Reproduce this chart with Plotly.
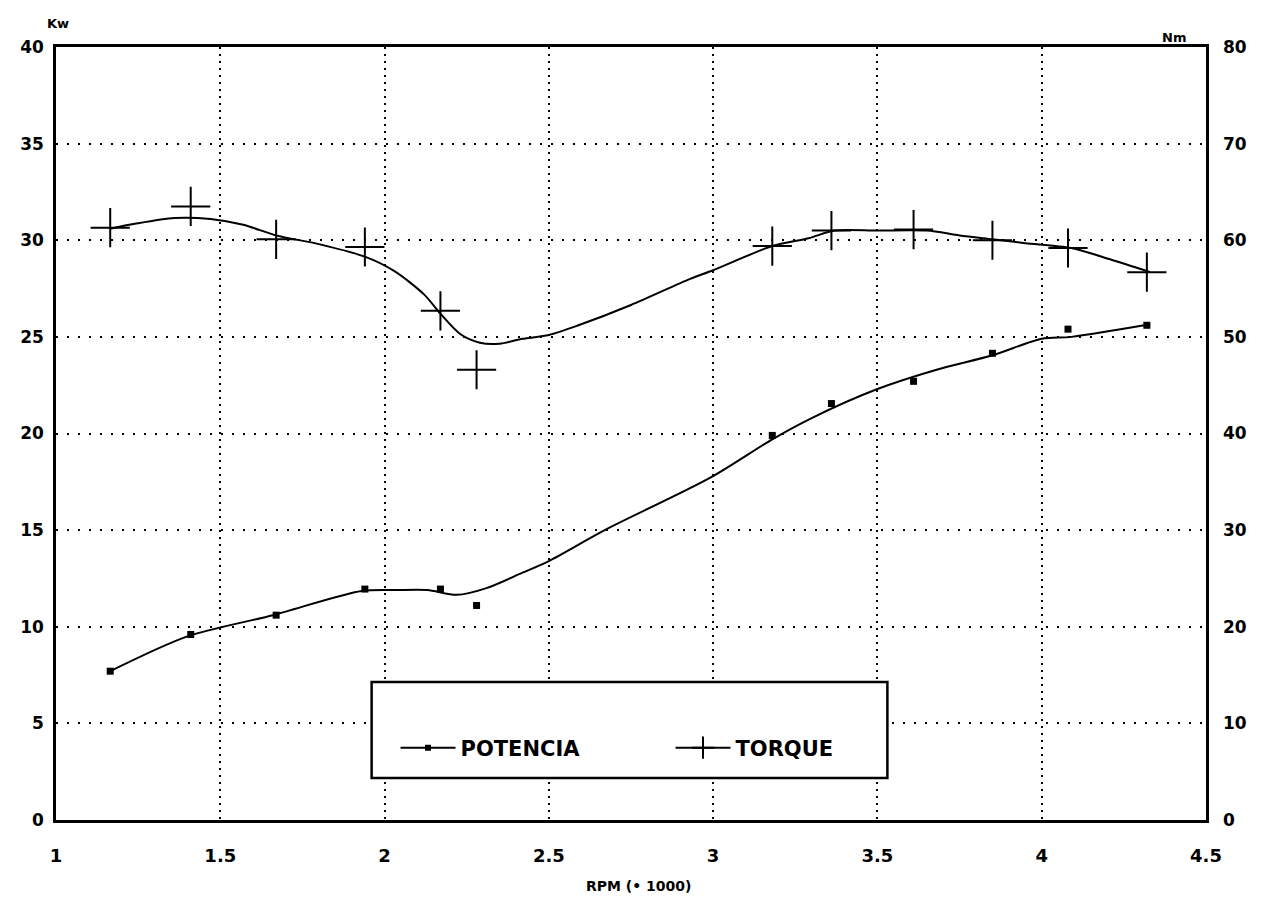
import plotly.graph_objects as go

# ---- data ----
rpm_points = [1.165, 1.41, 1.67, 1.94, 2.17, 2.28, 3.18, 3.36, 3.61, 3.85, 4.08, 4.32]
potencia_points = [7.7, 9.6, 10.6, 11.95, 11.95, 11.1, 19.9, 21.55, 22.7, 24.15, 25.4, 25.6]
torque_points = [61.3, 63.5, 60.1, 59.3, 52.7, 46.6, 59.4, 61.0, 61.1, 60.0, 59.2, 56.7]

# fitted (smoothed) curves as drawn in the picture
potencia_curve_rpm = [1.165, 1.40, 1.66, 1.93, 2.04, 2.13, 2.22, 2.31, 2.42, 2.50, 2.67,
                      2.99, 3.18, 3.30, 3.50, 3.68, 3.85, 4.00, 4.09, 4.33]
potencia_curve = [7.7, 9.5, 10.6, 11.85, 11.9, 11.9, 11.65, 12.0, 12.8, 13.4, 15.0,
                  17.7, 19.7, 20.8, 22.3, 23.3, 24.05, 24.9, 25.0, 25.65]
torque_curve_rpm = [1.165, 1.24, 1.36, 1.47, 1.57, 1.67, 1.80, 1.94, 2.03, 2.12, 2.17,
                    2.23, 2.29, 2.35, 2.42, 2.50, 2.59, 2.75, 2.93, 3.00, 3.18, 3.29,
                    3.37, 3.50, 3.65, 3.75, 3.85, 3.95, 4.09, 4.21, 4.33]
torque_curve = [61.2, 61.7, 62.3, 62.2, 61.6, 60.5, 59.6, 58.3, 56.8, 54.4, 52.4,
                50.3, 49.4, 49.3, 49.8, 50.2, 51.2, 53.3, 56.0, 56.9, 59.4, 60.2,
                61.0, 61.0, 61.0, 60.5, 60.1, 59.7, 59.2, 58.0, 56.7]

x_ticks = [1, 1.5, 2, 2.5, 3, 3.5, 4, 4.5]
x_labels = ["1", "1.5", "2", "2.5", "3", "3.5", "4", "4.5"]
kw_ticks = [0, 5, 10, 15, 20, 25, 30, 35, 40]
nm_ticks = [0, 10, 20, 30, 40, 50, 60, 70, 80]

series_names = ["POTENCIA", "TORQUE"]

BLACK = "#000000"
FONT = "DejaVu Sans, Liberation Sans, Arial, sans-serif"

fig = go.Figure()

# curves
fig.add_trace(go.Scatter(x=potencia_curve_rpm, y=potencia_curve, mode="lines",
                         line=dict(color=BLACK, width=2, shape="spline", smoothing=0.8),
                         showlegend=False, hoverinfo="skip"))
fig.add_trace(go.Scatter(x=torque_curve_rpm, y=torque_curve, mode="lines", yaxis="y2",
                         line=dict(color=BLACK, width=2, shape="spline", smoothing=0.8),
                         showlegend=False, hoverinfo="skip"))
# markers
fig.add_trace(go.Scatter(x=rpm_points, y=potencia_points, mode="markers",
                         marker=dict(symbol="square", size=7, color=BLACK),
                         showlegend=False, name=series_names[0]))
fig.add_trace(go.Scatter(x=rpm_points, y=torque_points, mode="markers", yaxis="y2",
                         marker=dict(symbol="cross-thin-open", size=28, color=BLACK,
                                     line=dict(color=BLACK, width=2)),
                         showlegend=False, name=series_names[1]))
# legend entries
fig.add_trace(go.Scatter(x=[None], y=[None], mode="lines+markers", name=series_names[0],
                         line=dict(color=BLACK, width=2),
                         marker=dict(symbol="square", size=6, color=BLACK)))
fig.add_trace(go.Scatter(x=[None], y=[None], mode="lines+markers", name=series_names[1],
                         yaxis="y2", line=dict(color=BLACK, width=2),
                         marker=dict(symbol="cross-thin-open", size=18, color=BLACK,
                                     line=dict(color=BLACK, width=2))))

# page has an 8px body margin; figure sized to fit the 1267x906 window
OFF = 8
W, H = 1251, 890
PL, PR, PT, PB = 55, 1210, 47, 820          # plot area in page pixels
L, R, T, B = PL - OFF, W - (PR - OFF), PT - OFF, H - (PB - OFF)
pw = W - L - R
ph = H - T - B

def px_x(p):
    return (p - OFF - L) / pw

def px_y(p):
    return (H - B - (p - OFF)) / ph

fig.add_shape(type="rect", xref="paper", yref="paper",
              x0=px_x(372), x1=px_x(890), y0=px_y(778), y1=px_y(682),
              line=dict(color=BLACK, width=2.5), fillcolor="white", layer="above")

fig.update_layout(
    width=W, height=H,
    margin=dict(l=L, r=R, t=T, b=B),
    paper_bgcolor="white", plot_bgcolor="white",
    font=dict(family=FONT, color=BLACK, size=18, weight="bold"),
    xaxis=dict(range=[1, 4.5], tickvals=x_ticks, ticktext=x_labels,
               showgrid=True, gridcolor=BLACK, gridwidth=1.5, griddash="2px,5px",
               showline=True, linecolor=BLACK, linewidth=2.5, mirror=True,
               ticks="", ticklabelstandoff=18, zeroline=False,
               tickfont=dict(family=FONT, size=18, weight="bold")),
    yaxis=dict(range=[0, 40], tickvals=kw_ticks,
               showgrid=True, gridcolor=BLACK, gridwidth=1.5, griddash="2px,9px",
               showline=True, linecolor=BLACK, linewidth=2.5, mirror=True,
               ticks="", ticklabelstandoff=6, zeroline=False,
               tickfont=dict(family=FONT, size=17, weight="bold")),
    yaxis2=dict(range=[0, 80], tickvals=nm_ticks, overlaying="y", side="right",
                showgrid=False, zeroline=False, showline=False,
                ticks="", ticklabelstandoff=16,
                tickfont=dict(family=FONT, size=17, weight="bold")),
    legend=dict(orientation="h", x=px_x(396), xanchor="left",
                y=px_y(748), yanchor="middle",
                bgcolor="rgba(0,0,0,0)", borderwidth=0,
                font=dict(family=FONT, size=21, weight="bold", color=BLACK),
                entrywidth=205, entrywidthmode="pixels", itemwidth=55),
    annotations=[
        dict(text="Kw", xref="paper", yref="paper", x=px_x(44), y=px_y(14),
             showarrow=False, font=dict(family=FONT, size=13, weight="bold")),
        dict(text="Nm", xref="paper", yref="paper", x=px_x(1192), y=px_y(28),
             showarrow=False, font=dict(family=FONT, size=13, weight="bold")),
        dict(text="RPM (• 1000)", xref="paper", yref="paper", x=px_x(640), y=px_y(896),
             showarrow=False, font=dict(family=FONT, size=14, weight="bold")),
    ],
)

fig.write_html("out.html")
